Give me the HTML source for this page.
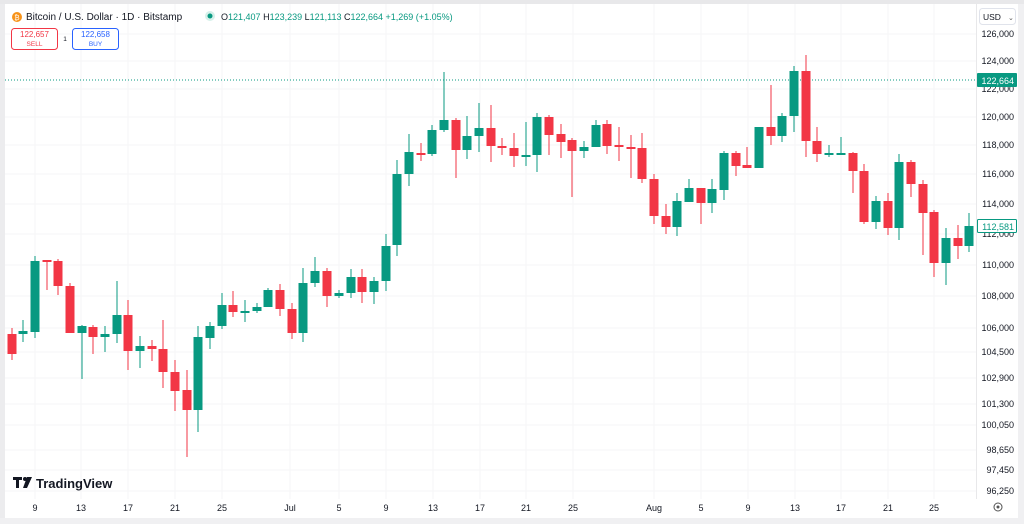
<!DOCTYPE html>
<html><head><meta charset="utf-8"><style>
body{margin:0;width:1024px;height:524px;overflow:hidden;background:#fff;font-family:"Liberation Sans",sans-serif}
svg{position:absolute;left:0;top:0}
</style></head><body>
<svg width="1024" height="524" xmlns="http://www.w3.org/2000/svg" font-family="Liberation Sans, sans-serif">
<rect x="0" y="0" width="1024" height="524" fill="#fff"/>
<rect x="0" y="0" width="1024" height="4" fill="#e8e8ea"/>
<rect x="0" y="4" width="5" height="520" fill="#ececee"/>
<rect x="976" y="4" width="1" height="495" fill="#e8e8ea"/>
<rect x="1018" y="4" width="6" height="520" fill="#f0f0f2"/>
<rect x="0" y="518" width="1024" height="6" fill="#f0f0f2"/>
<g stroke="#f5f5f7" stroke-width="1" id="grid">
<line x1="5" x2="976" y1="34" y2="34"/><line x1="5" x2="976" y1="61" y2="61"/><line x1="5" x2="976" y1="89" y2="89"/><line x1="5" x2="976" y1="117" y2="117"/><line x1="5" x2="976" y1="145" y2="145"/><line x1="5" x2="976" y1="174" y2="174"/><line x1="5" x2="976" y1="204" y2="204"/><line x1="5" x2="976" y1="234" y2="234"/><line x1="5" x2="976" y1="265" y2="265"/><line x1="5" x2="976" y1="296" y2="296"/><line x1="5" x2="976" y1="328" y2="328"/><line x1="5" x2="976" y1="352" y2="352"/><line x1="5" x2="976" y1="378" y2="378"/><line x1="5" x2="976" y1="404" y2="404"/><line x1="5" x2="976" y1="425" y2="425"/><line x1="5" x2="976" y1="450" y2="450"/><line x1="5" x2="976" y1="470" y2="470"/><line x1="5" x2="976" y1="491" y2="491"/>
<line y1="4" y2="499" x1="35" x2="35"/><line y1="4" y2="499" x1="81" x2="81"/><line y1="4" y2="499" x1="128" x2="128"/><line y1="4" y2="499" x1="175" x2="175"/><line y1="4" y2="499" x1="222" x2="222"/><line y1="4" y2="499" x1="290" x2="290"/><line y1="4" y2="499" x1="339" x2="339"/><line y1="4" y2="499" x1="386" x2="386"/><line y1="4" y2="499" x1="433" x2="433"/><line y1="4" y2="499" x1="480" x2="480"/><line y1="4" y2="499" x1="526" x2="526"/><line y1="4" y2="499" x1="573" x2="573"/><line y1="4" y2="499" x1="654" x2="654"/><line y1="4" y2="499" x1="701" x2="701"/><line y1="4" y2="499" x1="748" x2="748"/><line y1="4" y2="499" x1="795" x2="795"/><line y1="4" y2="499" x1="841" x2="841"/><line y1="4" y2="499" x1="888" x2="888"/><line y1="4" y2="499" x1="934" x2="934"/>
</g>
<line x1="5" x2="976" y1="80" y2="80" stroke="#089981" stroke-width="1" stroke-dasharray="1,2"/>
<g id="candles"></g>
<g font-size="9" fill="#131722" text-anchor="end">
<text x="1014" y="37">126,000</text><text x="1014" y="64">124,000</text><text x="1014" y="92">122,000</text><text x="1014" y="120">120,000</text><text x="1014" y="148">118,000</text><text x="1014" y="177">116,000</text><text x="1014" y="207">114,000</text><text x="1014" y="237">112,000</text><text x="1014" y="268">110,000</text><text x="1014" y="299">108,000</text><text x="1014" y="331">106,000</text><text x="1014" y="355">104,500</text><text x="1014" y="381">102,900</text><text x="1014" y="407">101,300</text><text x="1014" y="428">100,050</text><text x="1014" y="453">98,650</text><text x="1014" y="473">97,450</text><text x="1014" y="494">96,250</text>
</g>
<rect x="977" y="73" width="40" height="14" rx="1" fill="#089981"/>
<text x="1014" y="84" font-size="9" fill="#fff" text-anchor="end">122,664</text>
<rect x="977.5" y="219.5" width="39" height="13" rx="1" fill="#fff" stroke="#089981"/>
<text x="1014" y="230" font-size="9" fill="#089981" text-anchor="end">112,581</text>
<rect x="979.5" y="8.5" width="36" height="16" rx="3" fill="#fff" stroke="#e0e3eb"/>
<text x="983" y="20" font-size="8.5" fill="#131722">USD</text>
<text x="1008" y="20" font-size="7" fill="#555">⌄</text>
<circle cx="998" cy="507" r="4" fill="none" stroke="#555" stroke-width="1"/><circle cx="998" cy="507" r="1.5" fill="#555"/>
<g font-size="9" fill="#131722" text-anchor="middle">
<text x="35" y="511">9</text><text x="81" y="511">13</text><text x="128" y="511">17</text><text x="175" y="511">21</text><text x="222" y="511">25</text><text x="290" y="511">Jul</text><text x="339" y="511">5</text><text x="386" y="511">9</text><text x="433" y="511">13</text><text x="480" y="511">17</text><text x="526" y="511">21</text><text x="573" y="511">25</text><text x="654" y="511">Aug</text><text x="701" y="511">5</text><text x="748" y="511">9</text><text x="795" y="511">13</text><text x="841" y="511">17</text><text x="888" y="511">21</text><text x="934" y="511">25</text>
</g>
<circle cx="17" cy="17" r="5" fill="#f7931a"/><text x="17" y="20" font-size="7" fill="#fff" text-anchor="middle">₿</text>
<text x="26" y="20" font-size="10" fill="#131722">Bitcoin / U.S. Dollar · 1D · Bitstamp</text>
<circle cx="210" cy="16" r="5" fill="#d6f0ea"/><circle cx="210" cy="16" r="2.5" fill="#089981"/>
<g font-size="9"><text x="221" y="20"><tspan fill="#131722">O</tspan><tspan fill="#089981">121,407 </tspan><tspan fill="#131722">H</tspan><tspan fill="#089981">123,239 </tspan><tspan fill="#131722">L</tspan><tspan fill="#089981">121,113 </tspan><tspan fill="#131722">C</tspan><tspan fill="#089981">122,664 +1,269 (+1.05%)</tspan></text></g>
<rect x="11.5" y="28.5" width="46" height="21" rx="3" fill="#fff" stroke="#f23645"/>
<text x="34.5" y="37" font-size="8" fill="#f23645" text-anchor="middle">122,657</text>
<text x="34.5" y="46" font-size="6.5" fill="#f23645" text-anchor="middle">SELL</text>
<text x="65" y="41" font-size="6.5" fill="#131722" text-anchor="middle">1</text>
<rect x="72.5" y="28.5" width="46" height="21" rx="3" fill="#fff" stroke="#2962ff"/>
<text x="95.5" y="37" font-size="8" fill="#2962ff" text-anchor="middle">122,658</text>
<text x="95.5" y="46" font-size="6.5" fill="#2962ff" text-anchor="middle">BUY</text>
<g fill="#131722"><rect x="13" y="477" width="9" height="3"/><rect x="16" y="477" width="3" height="11"/><circle cx="25" cy="479" r="2"/><path d="M27 477 L32 477 L27 488 L23 488 Z"/></g>
<text x="36" y="488" font-size="13" font-weight="bold" fill="#131722">TradingView</text>
</svg>
<script>
var d=[[12,334,354,328,360],[23,334,331,320,342],[35,332,261,256,338],[47,260,261,260,290],[58,261,286,259,295],[70,286,333,283,333],[82,333,326,325,379],[93,327,337,325,354],[105,337,334,326,352],[117,334,315,281,343],[128,315,351,300,370],[140,351,346,336,368],[152,346,349,340,361],[163,349,372,320,388],[175,372,391,360,411],[187,390,410,370,457],[198,410,337,326,432],[210,338,326,322,349],[222,326,305,293,329],[233,305,312,291,317],[245,312,311,300,322],[257,311,307,303,313],[268,307,290,288,307],[280,290,309,284,316],[292,309,333,303,339],[303,333,283,268,342],[315,283,271,257,287],[327,271,296,268,307],[339,296,293,290,298],[351,293,277,269,298],[362,277,292,269,303],[374,292,281,277,304],[386,281,246,234,291],[397,245,174,160,256],[409,174,152,134,186],[421,153,154,143,161],[432,154,130,125,156],[444,130,120,72,132],[456,120,150,118,178],[467,150,136,116,159],[479,136,128,103,152],[491,128,146,105,162],[502,146,148,138,155],[514,148,156,133,167],[526,157,155,122,166],[537,155,117,113,172],[549,117,135,115,155],[561,134,142,124,158],[572,140,151,138,197],[584,151,147,141,158],[596,147,125,120,147],[607,124,146,120,154],[619,145,147,127,161],[631,147,148,135,178],[642,148,179,133,183],[654,179,216,174,224],[666,216,227,204,234],[677,227,201,193,236],[689,202,188,179,202],[701,188,203,188,224],[712,203,189,179,213],[724,190,153,151,200],[736,153,166,151,176],[747,165,168,147,168],[759,168,127,127,168],[771,127,136,85,145],[782,136,116,113,142],[794,116,71,66,132],[806,71,141,55,157],[817,141,154,127,162],[829,154,153,145,157],[841,154,153,137,154],[853,153,171,152,193],[864,171,222,164,224],[876,222,201,196,229],[888,201,228,193,235],[899,228,162,154,240],[911,162,184,160,197],[923,184,213,180,255],[934,212,263,210,277],[946,263,238,228,285],[958,238,246,225,259],[969,246,226,213,252]];
var s='';d.forEach(function(c){var col=c[2]<=c[1]?'#089981':'#f23645';var t=Math.min(c[1],c[2]),b=Math.max(c[1],c[2]);if(b-t<2)b=t+2;
s+='<line x1="'+c[0]+'" x2="'+c[0]+'" y1="'+c[3]+'" y2="'+c[4]+'" stroke="'+col+'" stroke-width="1"/>';
s+='<rect x="'+(c[0]-4.5)+'" y="'+t+'" width="9" height="'+(b-t)+'" fill="'+col+'"/>';});
document.getElementById('candles').innerHTML=s;
</script>
</body></html>
